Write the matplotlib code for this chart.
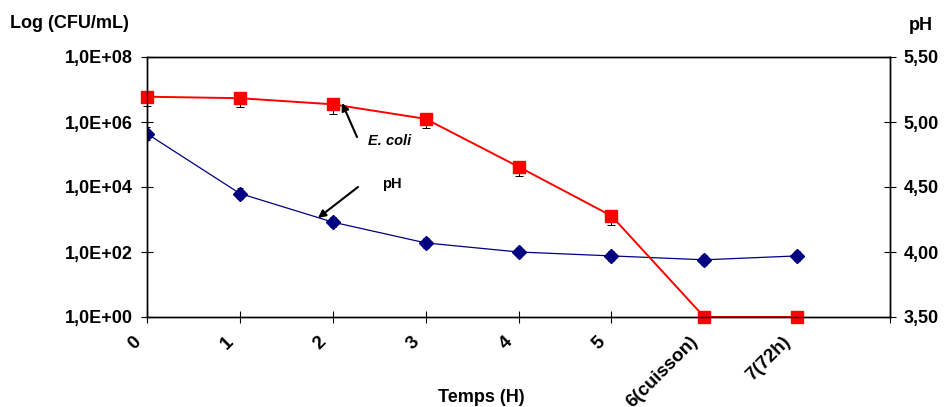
import matplotlib
matplotlib.use("Agg")
import matplotlib.pyplot as plt
from matplotlib.ticker import FixedLocator, FixedFormatter
from matplotlib.transforms import ScaledTranslation

plt.rcParams["font.family"] = ["Liberation Sans", "DejaVu Sans"]
plt.rcParams["font.weight"] = "bold"

# data
times = [0, 1, 2, 3, 4, 5, 6, 7]
time_labels = ["0", "1", "2", "3", "4", "5", "6(cuisson)", "7(72h)", ""]
ecoli = [6.0e6, 5.4e6, 3.5e6, 1.25e6, 4.2e4, 1.3e3, 1.0, 1.0]
ecoli_err = [3.0e6, 2.6e6, 1.7e6, 0.6e6, 2.0e4, 0.6e3, 0.0, 0.0]
ph = [4.91, 4.45, 4.23, 4.07, 4.00, 3.97, 3.94, 3.97]
ph_err = [0.05, 0.04, 0.04, 0.04, 0.03, 0.04, 0.04, 0.04]

left_ticks = [1e0, 1e2, 1e4, 1e6, 1e8]
left_labels = ["1,0E+00", "1,0E+02", "1,0E+04", "1,0E+06", "1,0E+08"]
right_ticks = [3.5, 4.0, 4.5, 5.0, 5.5]
right_labels = ["3,50", "4,00", "4,50", "5,00", "5,50"]


def main() -> None:
    fig = plt.figure(figsize=(9.46, 4.07), dpi=100)
    ax = fig.add_axes([147 / 946, 1 - 317 / 407, 743 / 946, 260 / 407])
    ax2 = ax.twinx()
    ax.set_zorder(ax2.get_zorder() + 1)
    ax.patch.set_visible(False)

    # pH on the right axis
    ax2.errorbar(times, ph, yerr=ph_err, color="#000080", lw=0.9,
                 marker="D", ms=7, mfc="#000080", mec="#000080",
                 ecolor="black", elinewidth=0.7, capsize=2.5, capthick=0.7)
    ax2.set_ylim(3.5, 5.5)
    ax2.yaxis.set_major_locator(FixedLocator(right_ticks))
    ax2.yaxis.set_major_formatter(FixedFormatter(right_labels))

    # E. coli on the left log axis
    ax.errorbar(times, ecoli, yerr=ecoli_err, color="#ff0000", lw=1.4,
                marker="s", ms=8.5, mfc="#ff0000", mec="#ff0000",
                ecolor="black", elinewidth=0.7, capsize=3, capthick=0.7,
                clip_on=False)
    ax.set_yscale("log")
    ax.set_ylim(1, 1e8)
    ax.yaxis.set_major_locator(FixedLocator(left_ticks))
    ax.yaxis.set_major_formatter(FixedFormatter(left_labels))
    ax.yaxis.set_minor_locator(FixedLocator([]))

    ax.set_xlim(0, 8)
    ax.set_xticks(range(9))
    ax.set_xticklabels(time_labels, rotation=45, ha="right", va="center",
                       rotation_mode="anchor")

    for a in (ax, ax2):
        a.tick_params(direction="inout", length=8, width=0.8,
                      labelsize=13, pad=6)
        for s in a.spines.values():
            s.set_linewidth(1.0)
    ax.tick_params(axis="x", pad=12, labelsize=13.5)
    shift = ScaledTranslation(-9 / 100, 0, fig.dpi_scale_trans)
    for lab in ax.get_xticklabels():
        lab.set_transform(lab.get_transform() + shift)

    def px(x, y):
        return ((x - 147) / 743, (317 - y) / 260)

    arrow = dict(arrowstyle="-|>", color="black", lw=1.5,
                 shrinkA=0, shrinkB=0, mutation_scale=11)
    ax.annotate("", xy=px(342, 103), xytext=px(357, 137),
                xycoords="axes fraction", textcoords="axes fraction",
                arrowprops=arrow)
    ax.annotate("", xy=px(318, 218), xytext=px(358, 187),
                xycoords="axes fraction", textcoords="axes fraction",
                arrowprops=arrow)
    ax.text(*px(368, 141), "E. coli", transform=ax.transAxes,
            fontsize=10.5, style="italic", weight="bold", va="center")
    ax.text(*px(382, 184), "pH", transform=ax.transAxes,
            fontsize=10.5, weight="bold", va="center")

    fig.text(10 / 946, 1 - 23 / 407, "Log (CFU/mL)", fontsize=13,
             weight="bold", va="center", ha="left")
    fig.text(909 / 946, 1 - 26 / 407, "pH", fontsize=13,
             weight="bold", va="center", ha="left")
    fig.text(481 / 946, 1 - 397 / 407, "Temps (H)", fontsize=13,
             weight="bold", va="center", ha="center")

    fig.savefig("out.png", dpi=100)
    plt.close(fig)


if __name__ == "__main__":
    main()
